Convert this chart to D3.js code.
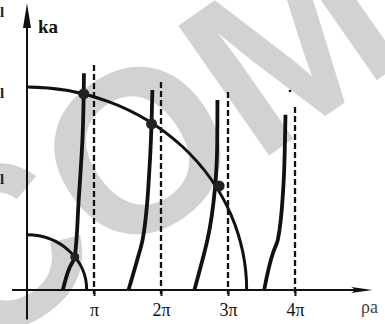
<!DOCTYPE html>
<html>
<head>
<meta charset="utf-8">
<script src="https://cdn.jsdelivr.net/npm/d3@7"></script>
<style>
  body { margin: 0; background: #fff; }
  svg { display: block; }
</style>
</head>
<body>
<svg width="385" height="324"></svg>
<script>
const PI = Math.PI;

// curves: [rho*a, k*a]
const curve1 = [[1.68, 0], [2.01, 1.17], [2.24, 1.68], [2.42, 4.5], [2.61, 7.9], [2.66, 10.0], [2.67, 11.0]];
const curve2 = [[4.76, 0], [5.14, 1.42], [5.42, 2.55], [5.75, 6.3], [5.84, 8.48], [5.88, 10.15]];
const curve3 = [[7.85, 0], [8.25, 1.62], [8.46, 2.54], [8.82, 5.23], [8.92, 7.5], [8.93, 9.64]];
const curve4 = [[11.12, 0], [11.55, 1.93], [11.76, 2.54], [12.02, 5.23], [12.10, 7.8], [12.12, 8.9]];
const curves = [curve1, curve2, curve3, curve4];

// radii of the two quarter circles
const radii = [2.8, 10.3];

// dashed asymptotes at n*pi, with the height where each dash line starts
const asymptotes = [1, 2, 3, 4];
const asymTop = [11.42, 10.56, 10.05, 9.29];

// intersection dots [rho*a, k*a, size]
const dots = [[2.24, 1.68, 4.5], [2.66, 9.95, 5.5], [5.84, 8.43, 5.5], [9.01, 5.28, 5.5]];

const tickLabels = ["π", "2π", "3π", "4π"];

const svg = d3.select("svg");

const x = d3.scaleLinear().domain([0, 4 * PI]).range([27, 295]);
const y = d3.scaleLinear().domain([0, 12]).range([290, 290 - 12 * 19.7]);

// watermark
svg.append("text")
    .attr("transform", "translate(148,143) rotate(-35)")
    .attr("text-anchor", "middle")
    .attr("dominant-baseline", "central")
    .style("font-family", "Liberation Sans, Arial, sans-serif")
    .style("font-weight", "bold")
    .style("font-size", "230px")
    .style("fill", "#d2d2d2")
    .text("COM");

// bits of neighbouring text at the left edge
[17, 98, 184].forEach(v => {
    svg.append("text")
        .attr("x", 0).attr("y", v)
        .style("font-family", "Liberation Serif, serif")
        .style("font-size", "15px")
        .style("font-weight", "bold")
        .style("fill", "#222")
        .text("l");
});

// axes lines
svg.append("line")
    .attr("x1", x(-0.7)).attr("y1", y(0))
    .attr("x2", x(15.6)).attr("y2", y(0))
    .style("stroke", "#111").style("stroke-width", 1.8);
svg.append("path")
    .attr("d", `M${x(16.2)},${y(0)} L${x(15.2)},${y(0) - 3} L${x(15.4)},${y(0)} L${x(15.2)},${y(0) + 3} Z`)
    .style("fill", "#111");

svg.append("line")
    .attr("x1", x(0)).attr("y1", y(-1.5))
    .attr("x2", x(0)).attr("y2", y(13.9))
    .style("stroke", "#111").style("stroke-width", 2);
svg.append("path")
    .attr("d", `M${x(0)},${y(14.55)} L${x(0) - 4},${y(13.3)} L${x(0) + 4},${y(13.3)} Z`)
    .style("fill", "#111");

// tick marks and labels
const axis = d3.axisBottom(x)
    .tickValues(asymptotes.map(n => n * PI))
    .tickFormat((d, i) => tickLabels[i])
    .tickSize(6)
    .tickPadding(7);
const ag = svg.append("g")
    .attr("transform", `translate(0,${y(0)})`)
    .call(axis);
ag.select(".domain").remove();
ag.selectAll("line").style("stroke", "#111").style("stroke-width", 2);
ag.selectAll("text")
    .style("font-family", "Liberation Serif, serif")
    .style("font-size", "18px")
    .style("fill", "#111");

// dashed asymptotes
svg.selectAll(".asym")
    .data(asymptotes)
    .enter()
    .append("line")
    .attr("class", "asym")
    .attr("x1", d => x(d * PI)).attr("x2", d => x(d * PI))
    .attr("y1", (d, i) => y(asymTop[i]))
    .attr("y2", y(-0.2))
    .style("stroke", "#111")
    .style("stroke-width", 2.3)
    .style("stroke-dasharray", "6,3");

// quarter circles
svg.selectAll(".circ")
    .data(radii)
    .enter()
    .append("path")
    .attr("class", "circ")
    .attr("d", r => {
        const rx = x(r) - x(0), ry = y(0) - y(r);
        return `M${x(0)},${y(r)} A${rx},${ry} 0 0 1 ${x(r)},${y(0)}`;
    })
    .style("fill", "none")
    .style("stroke", "#111")
    .style("stroke-width", 3);

// branches
const line = d3.line()
    .x(d => x(d[0]))
    .y(d => y(d[1]))
    .curve(d3.curveMonotoneY);

svg.selectAll(".branch")
    .data(curves)
    .enter()
    .append("path")
    .attr("class", "branch")
    .attr("d", line)
    .style("fill", "none")
    .style("stroke", "#111")
    .style("stroke-width", 3.8);

// intersection dots
svg.selectAll(".dot")
    .data(dots)
    .enter()
    .append("circle")
    .attr("cx", d => x(d[0]))
    .attr("cy", d => y(d[1]))
    .attr("r", d => d[2])
    .style("fill", "#222");

// speck above the last asymptote
svg.append("circle")
    .attr("cx", x(4 * PI) - 5).attr("cy", y(10.1))
    .attr("r", 1.3)
    .style("fill", "#111");

// axis names
svg.append("text")
    .attr("x", 38).attr("y", 33)
    .style("font-family", "Liberation Serif, serif")
    .style("font-size", "19px")
    .style("font-weight", "bold")
    .style("fill", "#111")
    .text("ka");
svg.append("text")
    .attr("x", 361).attr("y", 313)
    .style("font-family", "Liberation Serif, serif")
    .style("font-size", "18px")
    .style("fill", "#444")
    .text("ρa");
</script>
</body>
</html>
